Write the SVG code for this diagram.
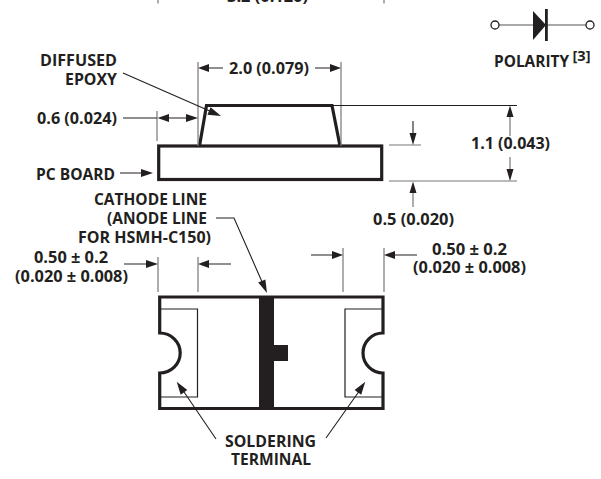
<svg xmlns="http://www.w3.org/2000/svg" width="601" height="479" viewBox="0 0 601 479">
<style>
text{font-family:"Open Sans","Noto Sans","Liberation Sans",sans-serif;font-weight:700;font-size:16px;fill:#231f20;}
text.sup{font-size:14px}
.o{fill:none;stroke:#231f20;stroke-width:3.2;stroke-linejoin:miter}
.t{fill:none;stroke:#231f20;stroke-width:1.2}
.g{fill:none;stroke:#777;stroke-width:1.2}
.k{stroke:#231f20;stroke-width:1.1;fill:none}
.h{stroke:#555;stroke-width:1.1;fill:none}
.a{fill:#231f20;stroke:none}
</style>
<rect width="601" height="479" fill="#fff"/>
<g id="top-cut">
<text x="227" y="1.500" textLength="81" lengthAdjust="spacingAndGlyphs">3.2 (0.126)</text>
<path class="g" d="M158 0V3.500M384 0V3.500"/>
</g>
<g id="polarity">
<path class="h" d="M499 25H533M546 25H586"/>
<circle cx="495" cy="25" r="4" fill="#fff" stroke="#231f20" stroke-width="1.3"/>
<circle cx="590" cy="25" r="4" fill="#fff" stroke="#231f20" stroke-width="1.3"/>
<path class="a" d="M533 11L546 25L533 40Z"/>
<rect class="a" x="545" y="9" width="2.800" height="32"/>
<text x="494" y="67" textLength="75" lengthAdjust="spacingAndGlyphs">POLARITY</text>
<text class="sup" x="572.500" y="60.500" textLength="18" lengthAdjust="spacingAndGlyphs">[3]</text>
</g>
<g id="side-view">
<rect class="o" x="158.700" y="146" width="223" height="33.500"/>
<path class="o" d="M199.500 146L206.500 105.500H332L340 146"/>
<path class="t" d="M199 146.500H340" style="stroke-width:1"/>
</g>
<g id="top-view">
<path class="o" d="M159.700 297H383V333A20 20 0 0 0 383 373V408.500H159.700V373A20.500 20 0 0 0 159.700 333Z"/>
<path class="t" d="M160 309H197.500V397H160M382 309H345V397H382"/>
<rect class="a" x="259" y="297" width="15" height="112"/>
<rect class="a" x="273" y="345" width="15" height="16"/>
</g>
<g id="connectors">
<path class="g" d="M198 62V146M341 62V146M157 111V141M158 257V292M198 257V292M343 248V292M384 248V292M389 145H421M389 181H517M413 187V207M510 112V136M510 157V172"/>
<path class="k" d="M333 105.500H517"/>
<path class="k" d="M123 73L212 112M123 118H157M168 118H187M120 173H143M209 68H223M315 68H331M413 121V134M124 264H147M209 264H231M311 255H332M395 255H417M216 218H234L263 284M216 439L182 389M326 438L360 390"/>
<g class="a">
<path d="M221 116L207.400 114.700L210.600 107.300Z"/>
<path d="M157.500 118L169 114V122ZM198 118L186 114V122Z"/>
<path d="M153 173L141 169V177Z"/>
<path d="M198 68L209 64V72ZM341 68L330 64V72Z"/>
<path d="M413 145L409.500 133H416.500ZM413 181.500L409.500 193H416.500Z"/>
<path d="M510 105.500L506.500 117H513.500ZM510 181L506.500 169H513.500Z"/>
<path d="M158 264L146 260V268ZM198 264L209 260V268ZM343 255L332 251V259ZM384 255L395 251V259Z"/>
<path d="M267 293L258.200 282.600L265.400 279.400Z"/>
<path d="M176.700 381.700L187.300 390.100L180.700 394.700ZM365.300 381.700L361.200 394.700L354.600 390.100Z"/>
</g>
</g>
<g id="labels">
<text x="40" y="66" textLength="77" lengthAdjust="spacingAndGlyphs">DIFFUSED</text>
<text x="65" y="85" textLength="52" lengthAdjust="spacingAndGlyphs">EPOXY</text>
<text x="229" y="74" textLength="80" lengthAdjust="spacingAndGlyphs">2.0 (0.079)</text>
<text x="37" y="124" textLength="80" lengthAdjust="spacingAndGlyphs">0.6 (0.024)</text>
<text x="36" y="180" textLength="79" lengthAdjust="spacingAndGlyphs">PC BOARD</text>
<text x="471" y="149" textLength="79" lengthAdjust="spacingAndGlyphs">1.1 (0.043)</text>
<text x="373" y="225" textLength="81" lengthAdjust="spacingAndGlyphs">0.5 (0.020)</text>
<text x="94" y="205" textLength="113" lengthAdjust="spacingAndGlyphs">CATHODE LINE</text>
<text x="107" y="224" textLength="100" lengthAdjust="spacingAndGlyphs">(ANODE LINE</text>
<text x="78" y="243" textLength="133" lengthAdjust="spacingAndGlyphs">FOR HSMH-C150)</text>
<text x="34" y="263" textLength="74" lengthAdjust="spacingAndGlyphs">0.50 ± 0.2</text>
<text x="15" y="282" textLength="113" lengthAdjust="spacingAndGlyphs">(0.020 ± 0.008)</text>
<text x="432" y="254.500" textLength="75" lengthAdjust="spacingAndGlyphs">0.50 ± 0.2</text>
<text x="413" y="273" textLength="113" lengthAdjust="spacingAndGlyphs">(0.020 ± 0.008)</text>
<text x="225" y="447" textLength="91" lengthAdjust="spacingAndGlyphs">SOLDERING</text>
<text x="231" y="465" textLength="80" lengthAdjust="spacingAndGlyphs">TERMINAL</text>
</g>
</svg>
